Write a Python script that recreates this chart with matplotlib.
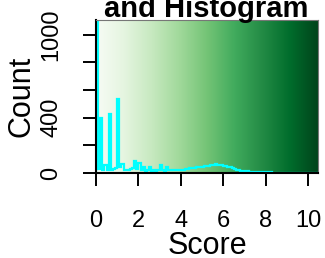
import matplotlib.pyplot as plt
import numpy as np
from matplotlib.colors import LinearSegmentedColormap

plt.rcParams["font.family"] = ["Liberation Sans", "DejaVu Sans"]

# histogram of scores, bin width 0.1 from 0 to 10.5
bin_edges = np.round(np.arange(0, 10.51, 0.1), 2)
counts = [
    1200, 30, 400, 25, 58, 20, 425, 25, 30, 35,
    535, 40, 65, 25, 20, 25, 30, 35, 90, 30,
    70, 20, 45, 15, 20, 45, 15, 20, 15, 20,
    55, 20, 15, 40, 20, 25, 20, 25, 20, 25,
    20, 25, 30, 30, 35, 35, 38, 40, 42, 45,
    45, 48, 50, 52, 55, 60, 62, 58, 60, 55,
    52, 50, 45, 40, 35, 30, 25, 22, 18, 15,
    13, 11, 10, 9, 8, 7, 6, 6, 5, 5,
    4, 4, 4, 3, 3, 3, 3, 3, 2, 2,
    2, 2, 2, 2, 2, 2, 2, 2, 2, 2,
    3, 2, 2, 2, 2,
]
x_ticks = [0, 2, 4, 6, 8, 10]
y_ticks = [0, 200, 400, 600, 800, 1000]
y_labels = ["0", "", "400", "", "", "1000"]

greens = ["#F7FCF5", "#E5F5E0", "#C7E9C0", "#A1D99B", "#74C476",
          "#41AB5D", "#238B45", "#006D2C", "#00441B"]

fig = plt.figure(figsize=(3.25, 2.58), dpi=100)
ax = fig.add_axes([96 / 325, 85 / 258, 222 / 325, 153.5 / 258])

xmax, ymax = 10.47, 1110
cmap = LinearSegmentedColormap.from_list("greens", greens)
ax.imshow(np.linspace(0, 1, 256).reshape(1, -1), cmap=cmap, aspect="auto",
          extent=[0, xmax, 0, ymax], zorder=0, interpolation="bilinear")

ax.stairs(counts, bin_edges, baseline=0, color="cyan", lw=1.6, zorder=2)

ax.set_xlim(0, xmax)
ax.set_ylim(0, ymax)
ax.set_xticks(x_ticks)
ax.set_yticks(y_ticks)
ax.set_yticklabels(y_labels, rotation=90, va="center")
ax.tick_params(axis="both", direction="out", length=9.4, width=1.4,
               labelsize=17)
ax.tick_params(axis="x", pad=17)
ax.tick_params(axis="y", pad=15)

for side in ["top", "right"]:
    ax.spines[side].set_color("#777777")
    ax.spines[side].set_linewidth(0.8)
for side in ["bottom", "left"]:
    ax.spines[side].set_color("black")
    ax.spines[side].set_linewidth(1.5)

ax.set_xlabel("Score", fontsize=22)
ax.set_ylabel("Count", fontsize=22)
ax.xaxis.set_label_coords(0.5, -0.375)
ax.yaxis.set_label_coords(-0.27, 0.5)

fig.text(206 / 325, 1 - 17 / 258, "and Histogram", ha="center",
         va="baseline", fontsize=21, fontweight="bold")

fig.savefig("out.png", dpi=100)
